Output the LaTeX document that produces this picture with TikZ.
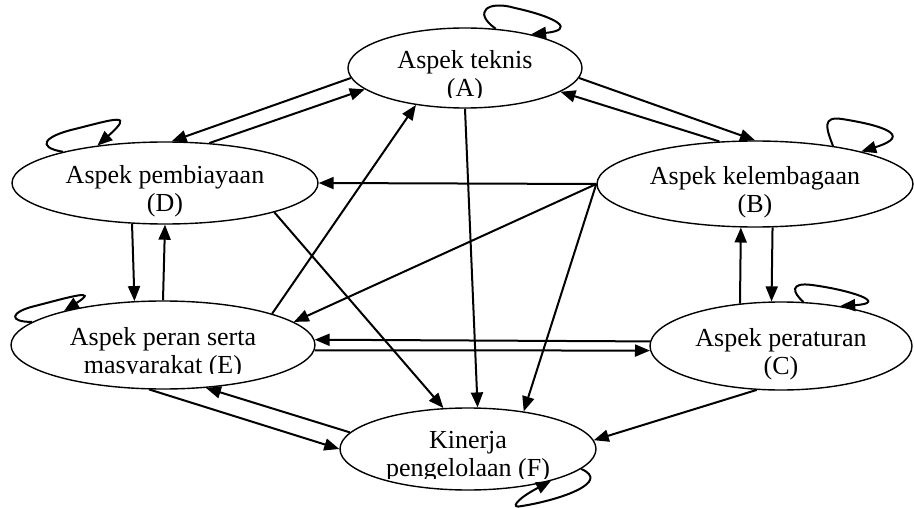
\documentclass[tikz,border=0pt]{standalone}
\usepackage{fontspec}
\setmainfont{Liberation Serif}
\usetikzlibrary{shapes.geometric, arrows.meta, positioning}

\begin{document}
\begin{tikzpicture}[x=1pt, y=-1pt,
    aspek/.style={ellipse, draw, line width=1.4pt, inner sep=0pt},
    teks/.style={align=center, inner sep=0pt, font=\fontsize{26pt}{28pt}\selectfont},
    panah/.style={line width=2pt, -{Triangle[length=15pt, width=12pt]}}]
  \useasboundingbox (0,0) rectangle (914,508);

  \node[aspek, minimum width=234pt, minimum height=80pt] (A) at (465,68) {};
  \node[aspek, minimum width=306pt, minimum height=82pt] (D) at (165,183) {};
  \node[aspek, minimum width=316pt, minimum height=86pt] (B) at (755,184) {};
  \node[aspek, minimum width=304pt, minimum height=88pt] (E) at (163,345) {};
  \node[aspek, minimum width=262pt, minimum height=88pt] (C) at (781,346) {};
  \node[aspek, minimum width=256pt, minimum height=82pt] (F) at (468,449) {};

  \begin{scope}
    \clip (0,0) rectangle (914,98);
    \node[teks] (tA) at ([yshift=-8pt]A.center) {Aspek teknis\\(A)};
  \end{scope}
  \node[teks] (tD) at ([yshift=-8pt]D.center) {Aspek pembiayaan\\(D)};
  \node[teks] (tB) at ([yshift=-8pt]B.center) {Aspek kelembagaan\\(B)};
  \begin{scope}
    \clip (0,0) rectangle (914,373);
    \node[teks] (tE) at ([yshift=-8pt]E.center) {Aspek peran serta\\masyarakat (E)};
  \end{scope}
  \node[teks] (tC) at ([yshift=-8pt]C.center) {Aspek peraturan\\(C)};
  \begin{scope}
    \clip (0,0) rectangle (914,478);
    \node[teks] (tF) at ([yshift=-8pt]F.center) {Kinerja\\pengelolaan (F)};
  \end{scope}

  \draw[panah] (A.185) -- (D.81);
  \draw[panah] (D.42) -- (A.192);
  \draw[panah] (A.-5) -- (B.90);
  \draw[panah] (B.130) -- (A.-14);
  \draw[panah] (B.180) -- (D.0);
  \draw[panah] (B.180) -- (E.10);
  \draw[panah] (B.180) -- (F.34);
  \draw[panah] (A.270) -- (F.77);
  \draw[panah] (D.-15) -- (F.121);
  \draw[panah] (E.16) -- (A.217);
  \draw[panah] (D.231) -- (E.123);
  \draw[panah] (E.90) -- (D.270);
  \draw[panah] (C.134) -- (B.252);
  \draw[panah] (B.292) -- (C.102);
  \draw[panah] (C.178) -- (E.2);
  \draw[panah] (E.-2) -- (C.182);
  \draw[panah] (E.253) -- (F.180);
  \draw[panah] (F.172) -- (E.315);
  \draw[panah] (C.241) -- (F.4);

  \draw[panah] (A.52) .. controls (472,12) and (488,0) .. (515,8) .. controls (560,18) and (575,30) .. (A.27);
  \draw[panah] (D.163) .. controls (35,147) and (45,136) .. (75,129) .. controls (115,119) and (135,112) .. (D.151);
  \draw[panah] (B.26) .. controls (826,128) and (822,116) .. (842,119) .. controls (880,125) and (915,135) .. (B.17);
  \draw[panah] (C.63) .. controls (792,292) and (790,282) .. (812,285) .. controls (850,290) and (890,303) .. (C.34);
  \draw[panah] (E.170) .. controls (8,322) and (10,312) .. (35,306) .. controls (70,297) and (100,288) .. (E.161);
  \draw[panah] (F.-10) .. controls (612,482) and (560,500) .. (522,506) .. controls (510,509) and (515,500) .. (F.-21);
\end{tikzpicture}
\end{document}
